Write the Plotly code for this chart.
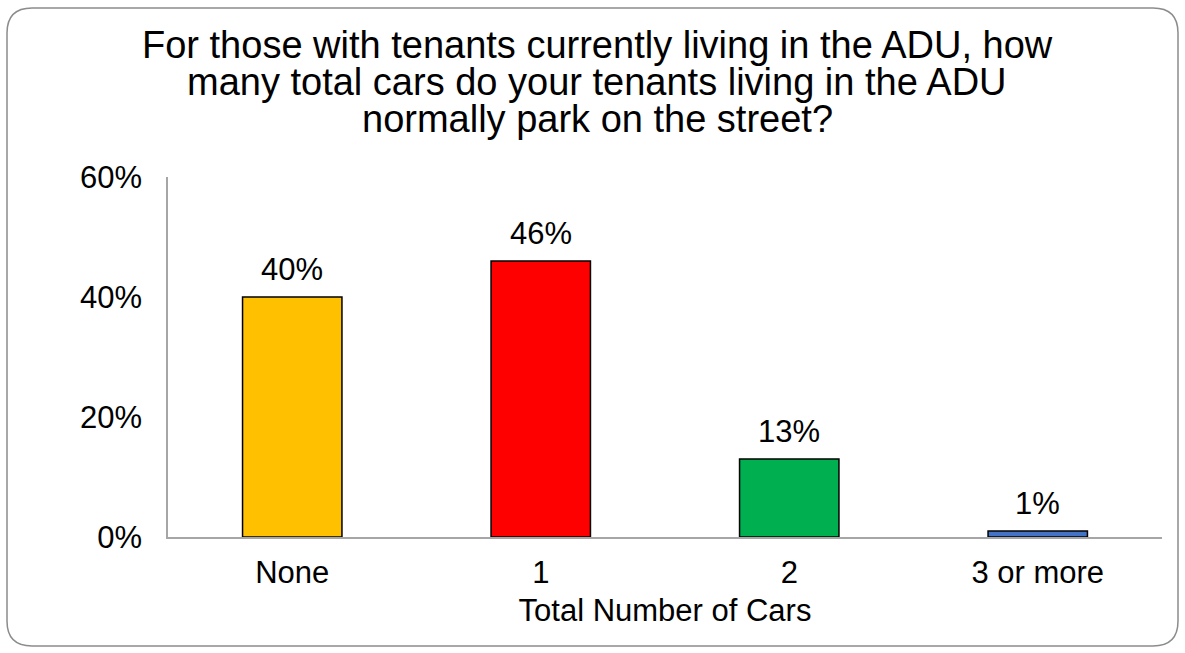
import plotly.graph_objects as go

categories = ["None", "1", "2", "3 or more"]
values = [40, 46, 13, 1]
colors = ["#FFC000", "#FF0000", "#00B050", "#4472C4"]
title_lines = [
    "For those with tenants currently living in the ADU, how",
    "many total cars do your tenants living in the ADU",
    "normally park on the street?",
]
y_ticks = [0, 20, 40, 60]
y_tick_labels = ["0%", "20%", "40%", "60%"]
x_title = "Total Number of Cars"

W, H = 1185, 653
ML, MR, MT, MB = 168, 23, 177, 116
PW, PH = W - ML - MR, H - MT - MB
FONT = "Liberation Sans, Arial, Helvetica, sans-serif"
FS = 31


def px(x):
    return (x - ML) / PW


def py(y):
    return (H - MB - y) / PH


fig = go.Figure()
fig.add_trace(go.Bar(
    x=categories, y=values,
    marker=dict(color=colors, line=dict(color="black", width=1.5)),
    width=0.4,
))

annotations = []
for c, v in zip(categories, values):
    annotations.append(dict(
        x=c, y=v, xref="x", yref="y", text=f"{v}%", showarrow=False,
        yanchor="bottom", yshift=8, font=dict(size=FS, color="black", family=FONT),
    ))

title_y = [45, 82, 119]
for t, yy in zip(title_lines, title_y):
    annotations.append(dict(
        x=px(597), y=py(yy), xref="paper", yref="paper", text=t, showarrow=False,
        xanchor="center", yanchor="middle", font=dict(size=38, color="black", family=FONT),
    ))

# rounded border
x0, y0, x1, y1, r = 7, 8, 1178, 646, 25
path = (
    f"M {px(x0 + r)},{py(y0)} L {px(x1 - r)},{py(y0)} "
    f"Q {px(x1)},{py(y0)} {px(x1)},{py(y0 + r)} "
    f"L {px(x1)},{py(y1 - r)} Q {px(x1)},{py(y1)} {px(x1 - r)},{py(y1)} "
    f"L {px(x0 + r)},{py(y1)} Q {px(x0)},{py(y1)} {px(x0)},{py(y1 - r)} "
    f"L {px(x0)},{py(y0 + r)} Q {px(x0)},{py(y0)} {px(x0 + r)},{py(y0)} Z"
)

fig.update_layout(
    width=W, height=H,
    margin=dict(l=ML, r=MR, t=MT, b=MB),
    paper_bgcolor="white", plot_bgcolor="white",
    showlegend=False,
    bargap=0.6,
    font=dict(family=FONT, color="black", size=FS),
    annotations=annotations,
    shapes=[dict(type="path", path=path, xref="paper", yref="paper",
                 line=dict(color="#8C8C8C", width=1.5), layer="below")],
    xaxis=dict(
        showline=True, linecolor="#A6A6A6", linewidth=1.5,
        showgrid=False, zeroline=False, ticks="",
        tickfont=dict(size=FS, family=FONT, color="black"),
        ticklabelstandoff=7,
        title=dict(text=x_title, font=dict(size=FS, family=FONT, color="black"), standoff=10),
    ),
    yaxis=dict(
        range=[0, 60], tickvals=y_ticks, ticktext=y_tick_labels,
        showline=True, linecolor="#A6A6A6", linewidth=1.5,
        showgrid=False, zeroline=False, ticks="",
        tickfont=dict(size=FS, family=FONT, color="black"),
        ticklabelstandoff=18,
    ),
)

fig.write_html(
    "out.html",
    config={"displayModeBar": False},
    post_script="document.body.style.margin='0';document.body.style.overflow='hidden';",
)
